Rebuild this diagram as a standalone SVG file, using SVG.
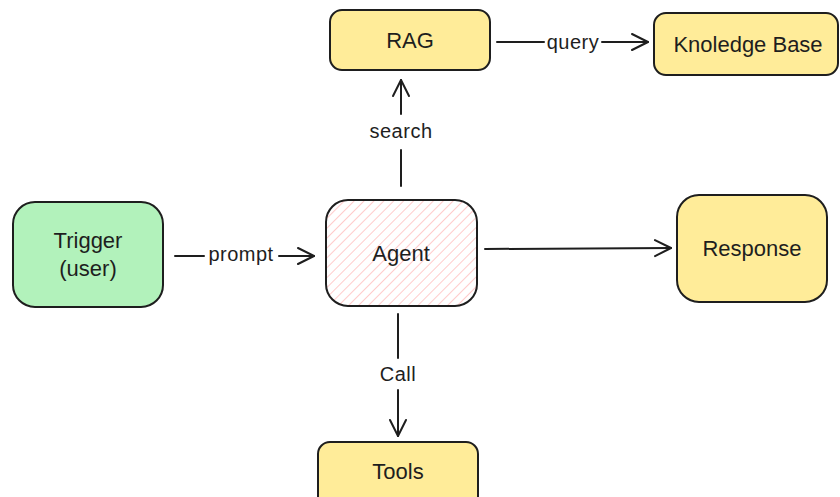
<svg xmlns="http://www.w3.org/2000/svg" width="840" height="497" viewBox="0 0 840 497">
<defs>
<style>
.box{stroke:#1e1e1e;stroke-width:2;}
.t{font-family:"Liberation Sans",Arial,sans-serif;font-size:22px;fill:#1e1e1e;text-anchor:middle;dominant-baseline:central;}
.l{font-family:"Liberation Sans",Arial,sans-serif;font-size:20px;fill:#1e1e1e;text-anchor:middle;dominant-baseline:central;letter-spacing:0.5px;}
.c{stroke:#1e1e1e;stroke-width:2;fill:none;stroke-linecap:round;}
</style>
<pattern id="hatch" patternUnits="userSpaceOnUse" width="7" height="7" patternTransform="rotate(45)">
<line x1="0" y1="0" x2="0" y2="7" stroke="#ffa8a8" stroke-width="1.2"/>
</pattern>
<marker id="arr" viewBox="0 0 20 20" refX="18" refY="10" markerWidth="20" markerHeight="20" markerUnits="userSpaceOnUse" orient="auto">
<path d="M2,2 L18,10 L2,18" fill="none" stroke="#1e1e1e" stroke-width="2" stroke-linecap="round" stroke-linejoin="round"/>
</marker>
</defs>
<rect width="840" height="497" fill="#ffffff"/>
<g id="connectors">
<g id="c-prompt">
<line class="c" x1="175" y1="256" x2="204" y2="256"/>
<text class="l" x="241" y="254">prompt</text>
<line class="c" x1="279" y1="256" x2="314" y2="256" marker-end="url(#arr)"/>
</g>
<g id="c-search">
<line class="c" x1="401" y1="186" x2="401" y2="150"/>
<text class="l" x="401" y="131">search</text>
<line class="c" x1="401" y1="114" x2="401" y2="80" marker-end="url(#arr)"/>
</g>
<g id="c-query">
<line class="c" x1="497" y1="42" x2="544" y2="42"/>
<text class="l" x="573" y="42">query</text>
<line class="c" x1="602" y1="42" x2="648" y2="42" marker-end="url(#arr)"/>
</g>
<g id="c-response">
<line class="c" x1="485" y1="249" x2="671" y2="248" marker-end="url(#arr)"/>
</g>
<g id="c-call">
<line class="c" x1="398" y1="314" x2="398" y2="358"/>
<text class="l" x="398" y="374">Call</text>
<line class="c" x1="398" y1="390" x2="398" y2="436" marker-end="url(#arr)"/>
</g>
</g>
<g id="trigger">
<rect class="box" x="13" y="202" width="150" height="105" rx="22" fill="#b2f2bb"/>
<text class="t" x="88" y="240">Trigger</text>
<text class="t" x="88" y="268">(user)</text>
</g>
<g id="agent">
<rect x="326" y="200" width="151" height="106" rx="22" fill="url(#hatch)"/>
<rect class="box" x="326" y="200" width="151" height="106" rx="22" fill="none"/>
<text class="t" x="401" y="253">Agent</text>
</g>
<g id="rag">
<rect class="box" x="330" y="10" width="160" height="60" rx="12" fill="#ffec99"/>
<text class="t" x="410" y="40">RAG</text>
</g>
<g id="kb">
<rect class="box" x="654" y="13" width="184" height="62" rx="12" fill="#ffec99"/>
<text class="t" x="748" y="44">Knoledge Base</text>
</g>
<g id="response">
<rect class="box" x="677" y="195" width="150" height="107" rx="22" fill="#ffec99"/>
<text class="t" x="752" y="248">Response</text>
</g>
<g id="tools">
<rect class="box" x="318" y="442" width="160" height="70" rx="12" fill="#ffec99"/>
<text class="t" x="398" y="471">Tools</text>
</g>
</svg>
